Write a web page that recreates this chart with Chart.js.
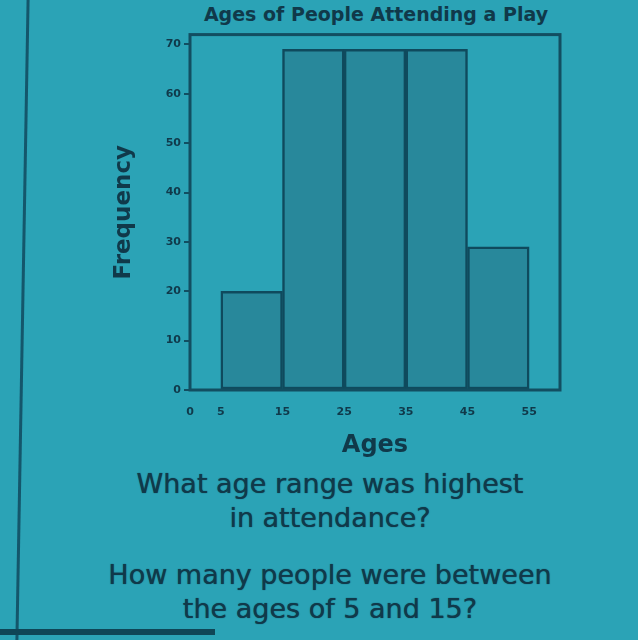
<!DOCTYPE html>
<html>
<head>
<meta charset="utf-8">
<script src="https://cdn.jsdelivr.net/npm/chart.js@4.4.1/dist/chart.umd.min.js"></script>
<style>
    html, body { margin: 0; padding: 0; }
    body {
        width: 638px; height: 640px; overflow: hidden; position: relative;
        background: #2ba3b6;
        font-family: "DejaVu Sans", sans-serif;
        color: #10394a;
    }
    #margin-line {
        position: absolute; left: 21px; top: -5px; width: 3px; height: 650px;
        background: #14566b; transform: rotate(1deg);
    }
    #bottom-line {
        position: absolute; left: 0; top: 629px; width: 215px; height: 6px;
        background: #0f4657;
    }
    #chart-title {
        position: absolute; left: 176px; top: 3px; width: 400px; text-align: center;
        font-weight: bold; font-size: 19px;
    }
    #chart-box {
        position: absolute; left: 100px; top: 25px; width: 480px; height: 435px;
    }
    .question {
        position: absolute; left: 30px; width: 600px; text-align: center;
        font-size: 27px; line-height: 34px;
        text-shadow: 0 0 1px #10394a;
    }
</style>
</head>
<body>
<div id="margin-line"></div>
<div id="bottom-line"></div>
<div id="chart-title">Ages of People Attending a Play</div>
<div id="chart-box"><canvas id="histChart"></canvas></div>
<div class="question" style="top: 467px;">What age range was highest<br>in attendance?</div>
<div class="question" style="top: 558px;">How many people were between<br>the ages of 5 and 15?</div>

<script>
// Yaş aralıkları ve frekanslar
const binStarts = [5, 15, 25, 35, 45];
const binEnds = [15, 25, 35, 45, 55];
const frequency = [20, 69, 69, 69, 29];

// Eksen etiketleri
const xTickValues = [0, 5, 15, 25, 35, 45, 55];
const yTickValues = [0, 10, 20, 30, 40, 50, 60, 70];

const ink = '#10394a';
const frameColor = '#124e61';

// Grafik çerçevesi
const frameBox = {
    id: 'frameBox',
    afterDatasetsDraw(chart) {
        const a = chart.chartArea;
        const ctx = chart.ctx;
        ctx.save();
        ctx.strokeStyle = frameColor;
        ctx.lineWidth = 3;
        ctx.strokeRect(a.left, a.top, a.right - a.left, a.bottom - a.top);
        ctx.restore();
    }
};

const points = binStarts.map((s, i) => ({ x: (s + binEnds[i]) / 2, y: frequency[i] }));

const ctx = document.getElementById('histChart').getContext('2d');
new Chart(ctx, {
    type: 'bar',
    data: {
        datasets: [{
            label: 'Frequency',
            data: points,
            backgroundColor: '#28889b',
            borderColor: '#0f4a5d',
            borderWidth: 2.5,
            borderSkipped: false,
            barThickness: 'flex',
            barPercentage: 1,
            categoryPercentage: 1
        }]
    },
    plugins: [frameBox],
    options: {
        responsive: true,
        maintainAspectRatio: false,
        animation: false,
        layout: { padding: { top: 1, right: 20, left: 0, bottom: 0 } },
        plugins: {
            legend: { display: false },
            tooltip: { enabled: false }
        },
        scales: {
            x: {
                type: 'linear',
                offset: false,
                min: 0,
                max: 60,
                afterBuildTicks: (axis) => { axis.ticks = xTickValues.map(v => ({ value: v })); },
                afterFit: (axis) => { axis.height = 70; },
                grid: { display: false },
                border: { display: false },
                ticks: {
                    autoSkip: false,
                    maxRotation: 0,
                    padding: 8,
                    color: ink,
                    font: { family: 'DejaVu Sans', size: 11, weight: 'bold' }
                },
                title: {
                    display: true,
                    text: 'Ages',
                    color: ink,
                    padding: { top: 0, bottom: 0 },
                    font: { family: 'DejaVu Sans', size: 24, weight: 'bold' }
                }
            },
            y: {
                min: 0,
                max: 72,
                afterBuildTicks: (axis) => { axis.ticks = yTickValues.map(v => ({ value: v })); },
                afterFit: (axis) => { axis.width = 90; },
                grid: { display: true, drawOnChartArea: false, tickLength: 6, color: frameColor, lineWidth: 2 },
                border: { display: false },
                ticks: {
                    padding: 3,
                    color: ink,
                    font: { family: 'DejaVu Sans', size: 11, weight: 'bold' }
                },
                title: {
                    display: true,
                    text: 'Frequency',
                    color: ink,
                    padding: { top: 10, bottom: 0 },
                    font: { family: 'DejaVu Sans', size: 23, weight: 'bold' }
                }
            }
        }
    }
});
</script>
</body>
</html>
